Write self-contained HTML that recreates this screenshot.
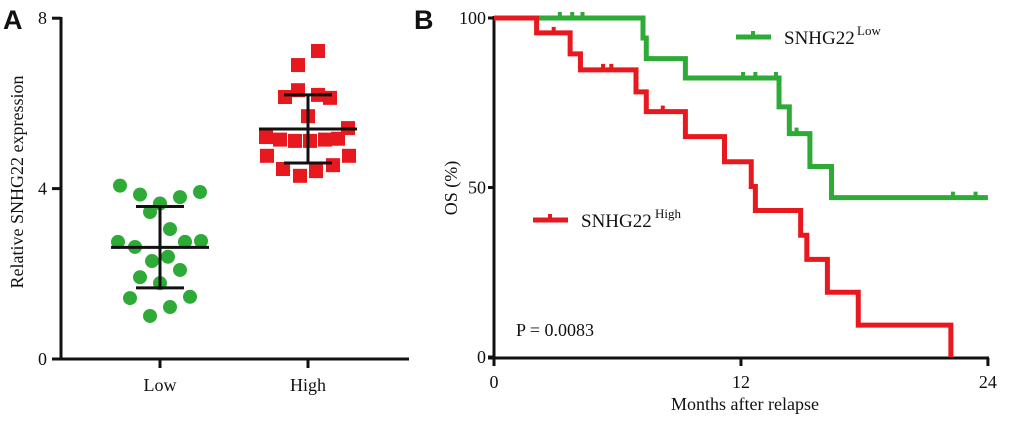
<!DOCTYPE html>
<html><head><meta charset="utf-8"><style>
body{margin:0;background:#fff}
svg text{font-family:"Liberation Serif",serif;fill:#111}
</style></head><body>
<svg id="c" width="1020" height="417" xmlns="http://www.w3.org/2000/svg">
<text x="3" y="29" style="font-family:'Liberation Sans',sans-serif;font-weight:bold;font-size:27px">A</text>
<text x="414" y="29" style="font-family:'Liberation Sans',sans-serif;font-weight:bold;font-size:27px">B</text>
<g id="pa"></g>
<g id="pb"></g>
</svg>
<script>
const groups=["Low","High"];
const lowVals=[4.07,3.86,3.65,3.80,3.92,3.45,3.05,2.75,2.63,2.75,2.77,2.30,2.40,2.09,1.92,1.78,1.43,1.46,1.22,1.01];
const lowX=[-40,-20,0,20,40,-10,10,-42,-25,25,41,-8,8,20,-20,0,-30,30,10,-10];
const highVals=[7.23,6.9,6.31,6.15,6.2,6.13,5.70,5.42,5.21,5.15,5.12,5.12,5.15,5.17,4.77,4.77,4.46,4.30,4.41,4.55];
const highX=[10,-10,-10,-23,10,22,0,40,-42,-28,-13,2,17,30,-41,41,-25,-8,8,25];
const lowStats=[2.62,3.58,1.67];
const highStats=[5.4,6.2,4.6];
const yTicksA=[0,4,8];
const timeTicks=[0,12,24];
const osTicks=[0,50,100];
const lowT=[0,7.24,7.4,9.3,13.85,14.35,15.35,16.4,24];
const lowS=[100,94.1,88,82.3,73.8,65.9,56.2,47,47];
const lowCT=[3.2,3.8,4.3,12.1,12.7,13.7,14.7,22.3,23.4];
const lowCS=[100,100,100,82.3,82.3,82.3,65.9,47,47];
const highT=[0,2.07,3.7,4.2,6.9,7.4,9.3,11.2,12.5,12.7,14.9,15.2,16.2,17.7,22.2];
const highS=[100,95.6,89.4,84.7,78.2,72.4,65,57.6,50.3,43.2,35.9,28.8,19.1,9.4,0];
const highCT=[2.9,5.3,5.7,8.2];
const highCS=[95.6,84.7,84.7,72.4];

const NS="http://www.w3.org/2000/svg";
function mk(p,t,a,txt){const e=document.createElementNS(NS,t);for(const k in a)e.setAttribute(k,a[k]);if(txt!=null)e.textContent=txt;p.appendChild(e);return e;}
const G="#2eaa37",R="#e8181f";
// Panel A
const pa=document.getElementById('pa');
const ya=v=>359-v*42.6, gx=[160,308];
let e=mk(pa,'line',{x1:61,y1:17,x2:61,y2:360,stroke:'#111','stroke-width':3});

e=mk(pa,'line',{x1:52,y1:359,x2:409,y2:359,stroke:'#111','stroke-width':3});

yTicksA.forEach(v=>{mk(pa,'line',{x1:52,y1:ya(v),x2:61,y2:ya(v),stroke:'#111','stroke-width':3});
 e=mk(pa,'text',{x:47,y:ya(v)+6,'text-anchor':'end','font-size':18},v);
 });
groups.forEach((g,i)=>{mk(pa,'line',{x1:gx[i],y1:359,x2:gx[i],y2:368,stroke:'#111','stroke-width':3});
 e=mk(pa,'text',{x:gx[i],y:391,'text-anchor':'middle','font-size':18},g);
 });
e=mk(pa,'text',{transform:'translate(23,182) rotate(-90)','text-anchor':'middle','font-size':18},'Relative SNHG22 expression');

lowVals.forEach((v,i)=>{e=mk(pa,'circle',{cx:gx[0]+lowX[i],cy:ya(v),r:7,fill:G});
 });
highVals.forEach((v,i)=>{e=mk(pa,'rect',{x:gx[1]+highX[i]-7,y:ya(v)-7,width:14,height:14,fill:R});
 });
function errbar(x,s,nm){const g=mk(pa,'g',{stroke:'#111','stroke-width':3});
 
 mk(g,'line',{x1:x-49,x2:x+49,y1:ya(s[0]),y2:ya(s[0])});
 mk(g,'line',{x1:x,x2:x,y1:ya(s[1]),y2:ya(s[2])});
 mk(g,'line',{x1:x-24,x2:x+24,y1:ya(s[1]),y2:ya(s[1])});
 mk(g,'line',{x1:x-24,x2:x+24,y1:ya(s[2]),y2:ya(s[2])});}
errbar(gx[0],lowStats,'low-mean-sd');errbar(gx[1],highStats,'high-mean-sd');
// Panel B
const pb=document.getElementById('pb');
const xb=t=>494+t*20.58, yb=s=>357-s*3.39;
e=mk(pb,'line',{x1:494,y1:16,x2:494,y2:359,stroke:'#111','stroke-width':3});

e=mk(pb,'line',{x1:488,y1:358,x2:989,y2:358,stroke:'#111','stroke-width':3});

osTicks.forEach(v=>{mk(pb,'line',{x1:488,y1:yb(v),x2:494,y2:yb(v),stroke:'#111','stroke-width':3});
 e=mk(pb,'text',{x:486,y:yb(v)+6,'text-anchor':'end','font-size':18},v);
 });
timeTicks.forEach(v=>{mk(pb,'line',{x1:xb(v),y1:358,x2:xb(v),y2:366,stroke:'#111','stroke-width':3});
 e=mk(pb,'text',{x:xb(v),y:388,'text-anchor':'middle','font-size':18},v);
 });
e=mk(pb,'text',{x:745,y:410,'text-anchor':'middle','font-size':18},'Months after relapse');

e=mk(pb,'text',{transform:'translate(457,188) rotate(-90)','text-anchor':'middle','font-size':18},'OS (%)');

function km(T,S,CT,CS,col,nm){let d='M'+xb(T[0])+','+yb(S[0]);
 for(let i=1;i<T.length;i++){d+=' H'+xb(T[i])+' V'+yb(S[i]);}
 const p=mk(pb,'path',{d:d,fill:'none',stroke:col,'stroke-width':5});
 
 CT.forEach((t,i)=>{const c=mk(pb,'line',{x1:xb(t),x2:xb(t),y1:yb(CS[i])-6,y2:yb(CS[i]),stroke:col,'stroke-width':4});
  });}
km(lowT,lowS,lowCT,lowCS,G,'low-curve');
km(highT,highS,highCT,highCS,R,'high-curve');
function leg(x,y,col,sup,nm,sx){const g=mk(pb,'g',{});
 mk(g,'line',{x1:x,x2:x+35,y1:y,y2:y,stroke:col,'stroke-width':5});
 mk(g,'line',{x1:x+17,x2:x+17,y1:y-6,y2:y,stroke:col,'stroke-width':4});
 mk(g,'text',{x:x+48,y:y+7,'font-size':19},'SNHG22');
 mk(g,'text',{x:sx,y:y-2,'font-size':13},sup);}
leg(736,37,G,'Low','legend-low',857);
leg(533,220,R,'High','legend-high',655);
e=mk(pb,'text',{x:516,y:336,'font-size':18},'P = 0.0083');

</script>
</body></html>
